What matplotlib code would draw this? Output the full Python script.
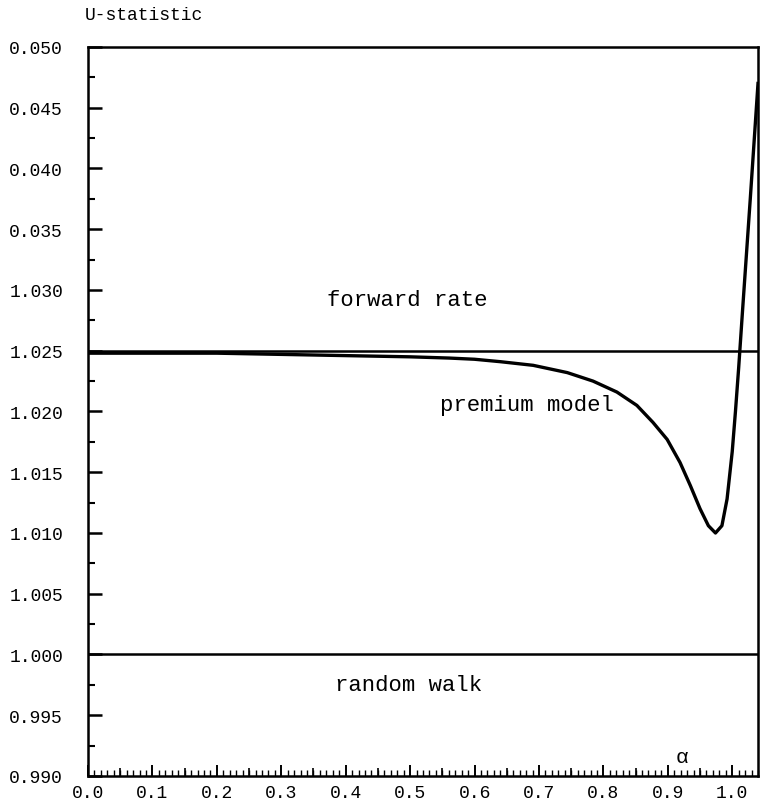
import matplotlib
matplotlib.use('Agg')
import matplotlib.pyplot as plt
import numpy as np

# values
alpha = [0.0, 0.1, 0.2, 0.3, 0.4, 0.5, 0.56, 0.60, 0.64, 0.691, 0.744,
         0.784, 0.821, 0.852, 0.877, 0.899, 0.919, 0.935, 0.950, 0.963,
         0.974, 0.984, 0.992, 1.000, 1.005, 1.010, 1.016, 1.028, 1.040]
premium = [1.0248, 1.0248, 1.0248, 1.0247, 1.0246, 1.0245, 1.0244, 1.0243,
           1.0241, 1.0238, 1.0232, 1.0225, 1.0216, 1.0205, 1.0191, 1.0177,
           1.0158, 1.0139, 1.0120, 1.0106, 1.0100, 1.0106, 1.0128, 1.0167,
           1.0200, 1.0236, 1.0283, 1.0375, 1.0470]
forward_rate = 1.025
random_walk = 1.000

y_ticks = [0.990, 0.995, 1.000, 1.005, 1.010, 1.015, 1.020, 1.025, 1.030,
           1.035, 1.040, 1.045, 1.050]
y_labels = ['0.990', '0.995', '1.000', '1.005', '1.010', '1.015', '1.020',
            '1.025', '1.030', '0.035', '0.040', '0.045', '0.050']
x_ticks = [0.0, 0.1, 0.2, 0.3, 0.4, 0.5, 0.6, 0.7, 0.8, 0.9, 1.0]
x_labels = ['0.0', '0.1', '0.2', '0.3', '0.4', '0.5', '0.6', '0.7', '0.8', '0.9', '1.0']

plt.rcParams['font.family'] = ['Liberation Mono', 'DejaVu Sans Mono']

fig = plt.figure(figsize=(7.63, 8.03), dpi=100)
ax = fig.add_axes([88 / 763, 26 / 803, 670 / 763, 729 / 803])

ax.axhline(forward_rate, color='black', lw=1.8)
ax.axhline(random_walk, color='black', lw=1.8)
ax.plot(alpha, premium, color='black', lw=2.4, solid_joinstyle='round')

ax.set_xlim(0, 1.04)
ax.set_ylim(0.990, 1.050)

ax.set_yticks(y_ticks)
ax.set_yticklabels(y_labels, fontsize=13)
ax.set_yticks(np.arange(0.9925, 1.050, 0.005), minor=True)
ax.set_xticks(x_ticks)
ax.set_xticklabels(x_labels, fontsize=13)
ax.set_xticks(np.arange(0.0, 1.041, 0.01), minor=True)

ax.tick_params(axis='y', which='major', direction='in', length=10, width=1.8, pad=18)
ax.tick_params(axis='y', which='minor', direction='in', length=5, width=1.5)
ax.tick_params(axis='x', which='major', direction='in', length=8, width=1.4, pad=6)
ax.tick_params(axis='x', which='minor', direction='in', length=4, width=1.0)

# medium ticks at the half-way marks
sec = ax.secondary_xaxis('bottom')
sec.set_xticks(np.arange(0.05, 1.04, 0.1))
sec.set_xticklabels([])
sec.tick_params(direction='in', length=6, width=1.2)
sec.spines['bottom'].set_visible(False)

for s in ax.spines.values():
    s.set_linewidth(1.8)

ax.text(0.371, 1.0292, 'forward rate', fontsize=16, ha='left', va='center')
ax.text(0.547, 1.0206, 'premium model', fontsize=16, ha='left', va='center')
ax.text(0.383, 0.9975, 'random walk', fontsize=16, ha='left', va='center')
ax.text(0.922, 0.9916, 'α', fontsize=15, ha='center', va='center')

fig.text(85 / 763, 1 - 15 / 803, 'U-statistic', fontsize=13, ha='left', va='center')

fig.savefig('out.png', dpi=100)
